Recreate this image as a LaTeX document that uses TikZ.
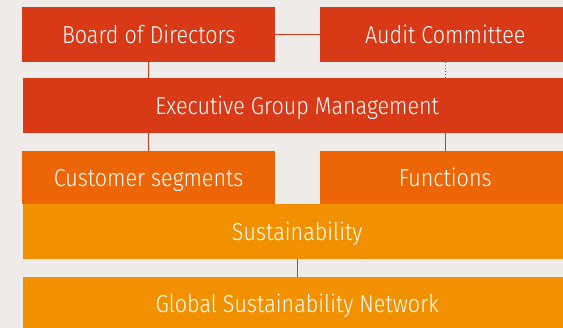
\documentclass[tikz,border=0pt]{standalone}
\usepackage{fontspec}
\setmainfont{Fira Sans}[UprightFont=* Light, FakeStretch=0.88]
\usepackage{xcolor}
\usetikzlibrary{positioning, calc}

\definecolor{paper}{HTML}{EFEBE8}
\definecolor{boardred}{HTML}{D83A18}
\definecolor{unitorange}{HTML}{EC6608}
\definecolor{susamber}{HTML}{F29100}

\begin{document}
\begin{tikzpicture}[x=1pt, y=-1pt,
    every node/.style={inner sep=0pt, text=white, font=\fontsize{24.5}{26}\selectfont,
        text height=16.9pt, text depth=0pt},
    box/.style={rectangle, minimum height=55pt, anchor=north west},
    link/.style={draw=boardred, line width=1pt}]
    \useasboundingbox[fill=paper] (0,0) rectangle (563,328);
    \clip (0,0) rectangle (563,328);
    % top row
    \node[box, fill=boardred, minimum width=253pt] (board) at (22,7) {Board of Directors};
    \node[box, fill=boardred, minimum width=250pt] (audit) at (320,7) {Audit Committee};
    \node[box, fill=boardred, minimum width=548pt] (egm) at (23,78) {Executive Group Management};
    % business units
    \node[box, fill=unitorange, minimum width=253pt, minimum height=53pt] (cust) at (22,151) {Customer segments};
    \node[box, fill=unitorange, minimum width=250pt, minimum height=53pt] (func) at (320,151) {Functions};
    % sustainability
    \node[box, fill=susamber, minimum width=548pt] (sus) at (23,204) {Sustainability};
    \node[box, fill=susamber, minimum width=548pt, minimum height=54pt] (gsn) at (23,277) {Global Sustainability Network};

    \draw[link] (board) -- (audit);
    \draw[link] (board) -- (board |- egm.north);
    \draw[link, dotted] (audit) -- (audit |- egm.north);
    \draw[link] (cust |- egm.south) -- (cust);
    \draw[link] (func |- egm.south) -- (func);
    \draw[link] (sus) -- (gsn);
\end{tikzpicture}
\end{document}
